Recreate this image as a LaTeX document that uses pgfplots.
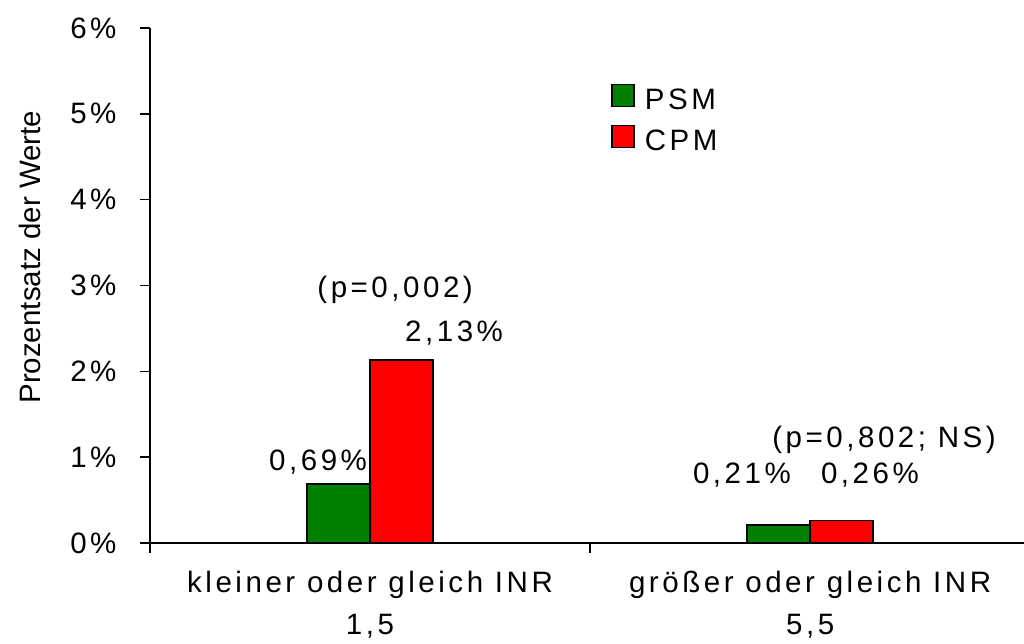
\documentclass[border=0pt]{standalone}
\usepackage{pgfplots}
\pgfplotsset{compat=1.18}
\usepackage{fontspec}
\setmainfont{Liberation Sans}
\newfontfamily\spaced[LetterSpace=12]{Liberation Sans}
\newcommand{\F}{\fontsize{29.5}{47}\selectfont}
\newcommand{\FX}{\fontsize{29.5}{42}\selectfont}
\definecolor{psm}{RGB}{0,128,0}
\definecolor{cpm}{RGB}{255,0,0}
\begin{document}
\begin{tikzpicture}
\path[use as bounding box] (0,0) rectangle (1024pt,643pt);
\begin{axis}[
  at={(150pt,100pt)}, anchor=south west,
  scale only axis, width=874pt, height=515pt,
  xmin=0.5, xmax=2.486, ymin=0, ymax=6,
  axis x line*=bottom, axis y line*=left,
  axis line style={line width=1.6pt},
  every tick/.style={line width=1.6pt, black},
  major tick length=10pt,
  tick align=outside,
  xtick={0.5,1.5}, xticklabels={,},
  extra x ticks={1,2},
  extra x tick labels={{kleiner oder gleich INR\\1,5},{größer oder gleich INR\\5,5}},
  extra x tick style={major tick length=0pt},
  xticklabel style={align=center, font=\spaced\FX, inner sep=0pt, yshift=-28pt},
  ytick={0,1,2,3,4,5,6},
  yticklabels={{0\%},{1\%},{2\%},{3\%},{4\%},{5\%},{6\%}},
  yticklabel style={font=\spaced\F, anchor=east, xshift=-20pt},
  ylabel={Prozentsatz der Werte},
  ylabel style={at={(axis description cs:-0.137,0.555)}, anchor=center, font=\F},
  clip=false,
  legend style={at={(axis cs:1.548,5.35)}, anchor=north west, draw=none, fill=none,
    font=\spaced\F, row sep=12pt, inner sep=0pt},
  legend cell align=left,
  legend image code/.code={\draw[#1, line width=1.5pt] (0pt,-7pt) rectangle (22pt,15pt); \path (30pt,0pt);},
]
\addplot[ybar, bar width=0.1432, bar shift=-0.0716, fill=psm, draw=black, line width=1.5pt]
  coordinates {(1,0.69) (2,0.21)};
\addlegendentry{PSM}
\addplot[ybar, bar width=0.1432, bar shift=0.0716, fill=cpm, draw=black, line width=1.5pt]
  coordinates {(1,2.13) (2,0.26)};
\addlegendentry{CPM}
\node[font=\spaced\F] at (axis cs:1.057,2.95) {(p=0,002)};
\node[font=\spaced\F] at (axis cs:1.191,2.45) {2,13\%};
\node[font=\spaced\F] at (axis cs:0.882,0.94) {0,69\%};
\node[font=\spaced\F] at (axis cs:2.168,1.20) {(p=0,802; NS)};
\node[font=\spaced\F] at (axis cs:1.845,0.79) {0,21\%};
\node[font=\spaced\F] at (axis cs:2.136,0.79) {0,26\%};
\end{axis}
\end{tikzpicture}
\end{document}
